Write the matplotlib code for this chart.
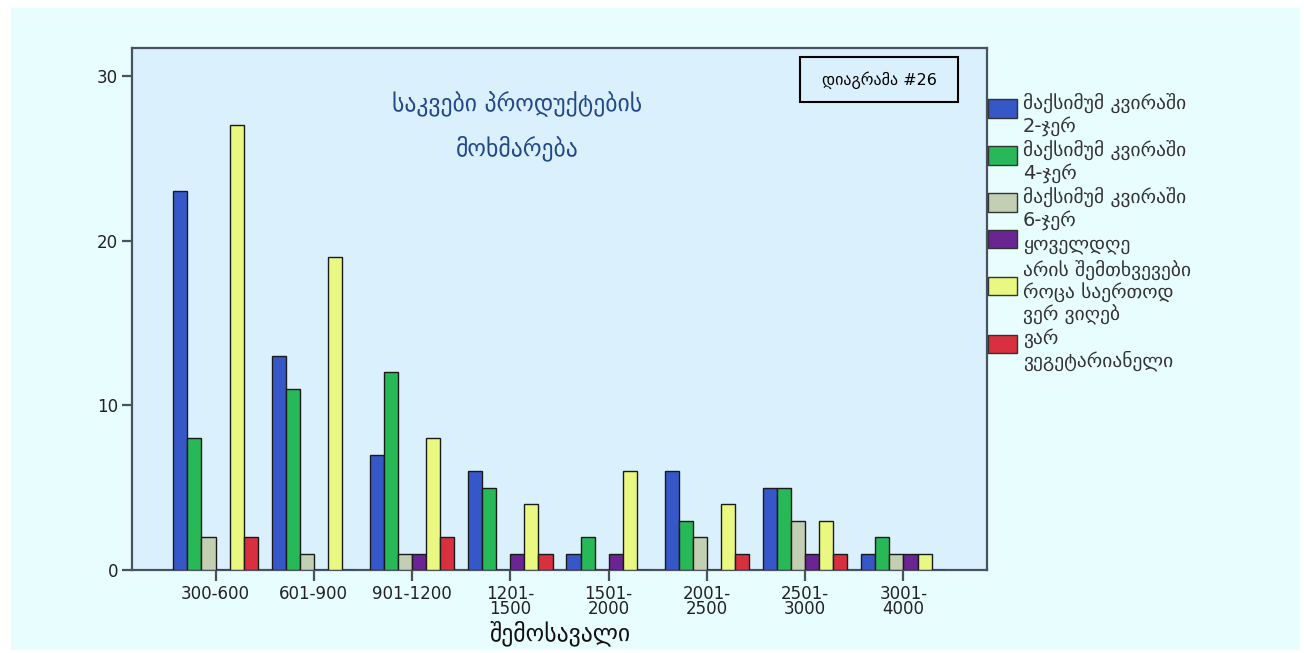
import numpy as np
import matplotlib
matplotlib.use('Agg')
import matplotlib.pyplot as plt
import matplotlib.patches as patches

# income groups (x axis)
income_groups = ['300-600', '601-900', '901-1200', '1201-\n1500', '1501-\n2000',
                 '2001-\n2500', '2501-\n3000', '3001-\n4000']

series_labels = [
    'მაქსიმუმ კვირაში\n2-ჯერ',
    'მაქსიმუმ კვირაში\n4-ჯერ',
    'მაქსიმუმ კვირაში\n6-ჯერ',
    'ყოველდღე',
    'არის შემთხვევები\nროცა საერთოდ\nვერ ვიღებ',
    'ვარ\nვეგეტარიანელი',
]

twice_week = [23, 13, 7, 6, 1, 6, 5, 1]
four_week = [8, 11, 12, 5, 2, 3, 5, 2]
six_week = [2, 1, 1, 0, 0, 2, 3, 1]
every_day = [0, 0, 1, 1, 1, 0, 1, 1]
sometimes_never = [27, 19, 8, 4, 6, 4, 3, 1]
vegetarian = [2, 0, 2, 1, 0, 1, 1, 0]

series = [twice_week, four_week, six_week, every_day, sometimes_never, vegetarian]
colors = ['#3557c8', '#27b858', '#c3cfb2', '#6a2592', '#e9f881', '#d9303f']

title = 'საკვები პროდუქტების\nმოხმარება'
x_label = 'შემოსავალი'
note = 'დიაგრამა #26'

W, H = 1304, 653
fig = plt.figure(figsize=(W / 100, H / 100), dpi=100)
fig.patch.set_facecolor('white')


def fx(px):
    return px / W


def fy(py):
    return 1 - py / H


# light cyan page background
fig.add_artist(patches.Rectangle((fx(11), fy(650)), fx(1300) - fx(11), fy(8) - fy(650),
                                 transform=fig.transFigure, facecolor='#e8fdfd',
                                 edgecolor='none', zorder=0))

ax = fig.add_axes([fx(132), fy(570), fx(987) - fx(132), fy(48) - fy(570)])
ax.set_facecolor('#dbf0fd')

x = np.arange(len(income_groups))
n = len(series)
bw = 0.143
for i, (vals, col) in enumerate(zip(series, colors)):
    offs = (i - (n - 1) / 2) * bw
    ax.bar(x + offs, vals, width=bw, color=col, edgecolor='#1a1a1a',
           linewidth=1.0, zorder=3)

ax.set_xlim(-0.85, len(income_groups) - 1 + 0.85)
ax.set_ylim(0, 31.7)
ax.set_yticks([0, 10, 20, 30])
ax.set_xticks(x)
ax.set_xticklabels(income_groups, linespacing=0.8)

for s in ax.spines.values():
    s.set_color('#4a5261')
    s.set_linewidth(1.6)
ax.tick_params(axis='y', direction='out', length=7, width=1.6, color='#4a5261',
               labelsize=12, labelcolor='#222222', pad=3)
ax.tick_params(axis='x', direction='out', length=8, width=1.6, color='#4a5261',
               labelsize=12, labelcolor='#222222', pad=3)

ax.text(0.45, 0.85, title, transform=ax.transAxes, ha='center', va='center',
        fontsize=17, color='#23498a', linespacing=1.9, family='DejaVu Sans')

ax.text(fx(879), fy(80), note, transform=fig.transFigure, ha='center', va='center',
        fontsize=11.5, color='black', family='DejaVu Sans', zorder=5)
fig.add_artist(patches.Rectangle((fx(800), fy(102)), fx(958) - fx(800), fy(57) - fy(102),
                                 transform=fig.transFigure, facecolor='none',
                                 edgecolor='black', linewidth=1.5, zorder=5))

fig.text(fx(560), fy(633), x_label, ha='center', va='center', fontsize=17,
         color='#111111', family='DejaVu Sans')

# legend drawn by hand so the swatches sit like the original
y = 102
line_h = 21
for lab, col in zip(series_labels, colors):
    nl = lab.count('\n') + 1
    centre = y + (nl - 1) * line_h / 2
    fig.add_artist(patches.Rectangle((fx(988), fy(centre + 5)), fx(29), fy(0) - fy(18),
                                     transform=fig.transFigure, facecolor=col,
                                     edgecolor='#333333', linewidth=1.0))
    fig.text(fx(1023), fy(centre + 2), lab, ha='left', va='center', fontsize=14,
             color='#333333', family='DejaVu Sans', linespacing=1.15)
    y += nl * line_h + 5

fig.savefig('out.png', dpi=100, facecolor=fig.get_facecolor())
